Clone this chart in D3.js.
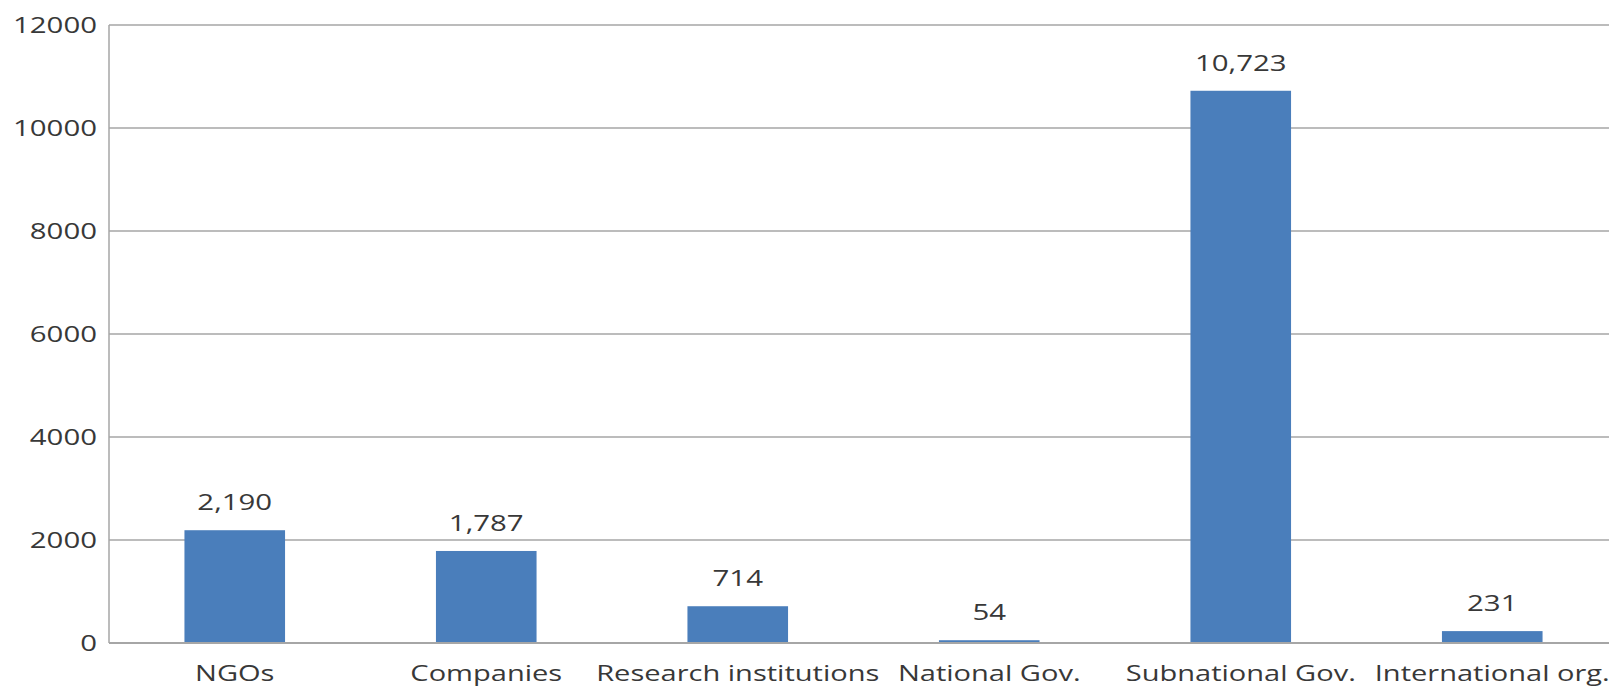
<!DOCTYPE html>
<html>
<head>
<meta charset="utf-8">
<script src="https://cdn.jsdelivr.net/npm/d3@7"></script>
<style>
  html, body { margin: 0; padding: 0; background: #fff; overflow: hidden; }
  svg { display: block; }
  text { font-family: "Open Sans", sans-serif; fill: #383838; }
</style>
</head>
<body>
<div id="chart"></div>
<script>
// data
const categories = ['NGOs', 'Companies', 'Research institutions', 'National Gov.', 'Subnational Gov.', 'International org.']
const values = [2190, 1787, 714, 54, 10723, 231]
const yTicks = [0, 2000, 4000, 6000, 8000, 10000, 12000]

const width = 1609
const height = 688
const plotLeft = 109, plotRight = 1618, plotTop = 25, plotBottom = 643
const sx = 1.4 // the source picture is stretched sideways

const svg = d3.select('#chart').append('svg').attr('width', width).attr('height', height)

const x = d3.scaleBand().domain(categories).range([plotLeft, plotRight]).paddingInner(0.6).paddingOuter(0.3)
const y = d3.scaleLinear().domain([0, 12000]).range([plotBottom, plotTop])

// gridlines
svg.append('g').selectAll('line')
  .data(yTicks.filter(d => d > 0))
  .enter().append('line')
  .attr('x1', plotLeft).attr('x2', plotRight)
  .attr('y1', d => y(d)).attr('y2', d => y(d))
  .attr('stroke', '#a6a6a6').attr('stroke-width', 1.5)

// y labels
svg.append('g').selectAll('text')
  .data(yTicks)
  .enter().append('text')
  .text(d => d)
  .attr('text-anchor', 'end')
  .attr('dominant-baseline', 'central')
  .attr('font-size', 21)
  .attr('transform', d => `translate(97,${y(d)}) scale(${sx},1)`)

// bars
svg.append('g').selectAll('rect')
  .data(values)
  .enter().append('rect')
  .attr('x', (d, i) => x(categories[i]))
  .attr('width', x.bandwidth())
  .attr('y', d => y(d))
  .attr('height', d => plotBottom - y(d))
  .attr('fill', '#4a7ebb')

// value labels
const fmt = d3.format(',')
svg.append('g').selectAll('text')
  .data(values)
  .enter().append('text')
  .text(d => fmt(d))
  .attr('text-anchor', 'middle')
  .attr('font-size', 21)
  .attr('transform', (d, i) => `translate(${x(categories[i]) + x.bandwidth() / 2},${y(d) - 20}) scale(${sx},1)`)

// axes lines
svg.append('line').attr('x1', plotLeft).attr('x2', plotLeft).attr('y1', plotTop).attr('y2', plotBottom)
  .attr('stroke', '#a6a6a6').attr('stroke-width', 1.5)
svg.append('line').attr('x1', plotLeft).attr('x2', plotRight).attr('y1', plotBottom).attr('y2', plotBottom)
  .attr('stroke', '#a6a6a6').attr('stroke-width', 2)

// category labels
svg.append('g').selectAll('text')
  .data(categories)
  .enter().append('text')
  .text(d => d)
  .attr('text-anchor', 'middle')
  .attr('font-size', 22)
  .attr('transform', d => `translate(${x(d) + x.bandwidth() / 2},681) scale(1.32,1)`)
</script>
</body>
</html>
